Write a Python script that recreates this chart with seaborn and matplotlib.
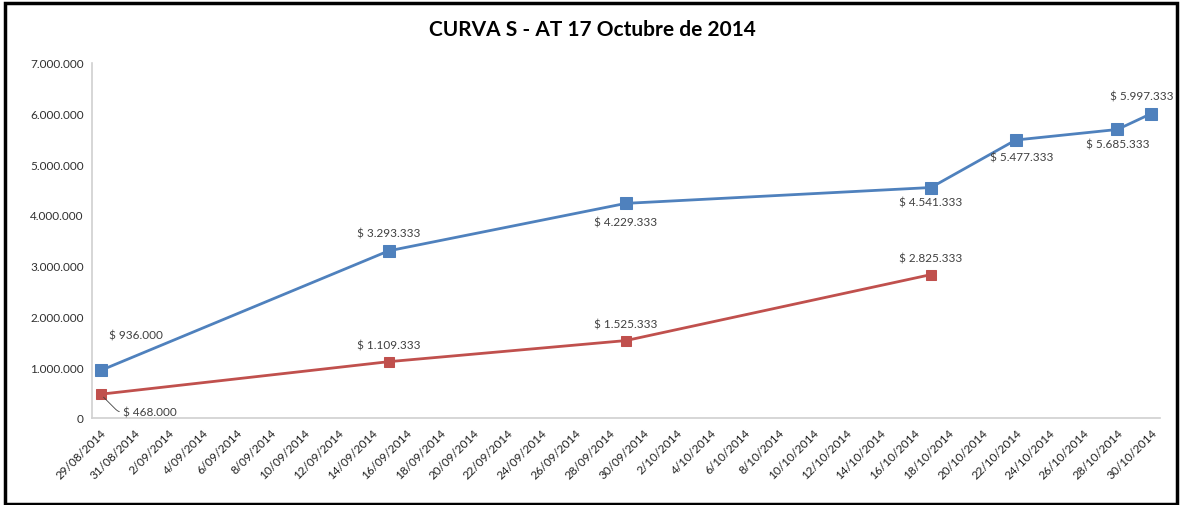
import pandas as pd
import numpy as np
import matplotlib
matplotlib.use('Agg')
import matplotlib.pyplot as plt
import seaborn as sns

###### Data
blue_dates = ['2014-08-29', '2014-09-15', '2014-09-29', '2014-10-17', '2014-10-22', '2014-10-28', '2014-10-30']
blue_values = [936000, 3293333, 4229333, 4541333, 5477333, 5685333, 5997333]
red_dates = ['2014-08-29', '2014-09-15', '2014-09-29', '2014-10-17']
red_values = [468000, 1109333, 1525333, 2825333]

df_blue = pd.DataFrame({'fecha': pd.to_datetime(blue_dates), 'valor': blue_values})
df_red = pd.DataFrame({'fecha': pd.to_datetime(red_dates), 'valor': red_values})

BLUE = '#4F81BD'
RED = '#C0504D'

def fmt_money(v):
    return '$ ' + '{:,}'.format(v).replace(',', '.')

sns.set_style('white')
plt.rcParams['font.family'] = ['Lato', 'DejaVu Sans']

fig = plt.figure(figsize=(11.81, 5.06), dpi=100)
ax = fig.add_axes([0.078, 0.172, 0.904, 0.702])

sns.lineplot(data=df_blue, x='fecha', y='valor', color=BLUE, marker='s', markersize=9,
             markeredgecolor=BLUE, linewidth=2, ax=ax)
sns.lineplot(data=df_red, x='fecha', y='valor', color=RED, marker='s', markersize=7,
             markeredgecolor=RED, linewidth=2, ax=ax)

# data labels (offsets in pixels)
blue_off = [(35, 35), (0, 18), (0, -19), (0, -14), (6, -17), (0, -15), (-10, 18)]
red_off = [(0, 0), (0, 17), (0, 17), (0, 17)]
for (d, v), off in zip(zip(df_blue['fecha'], df_blue['valor']), blue_off):
    ax.annotate(fmt_money(v), (d, v), xytext=off, textcoords='offset pixels',
                ha='center', va='center', fontsize=8.5, color='#404040',
                annotation_clip=False, clip_on=False)
for i, ((d, v), off) in enumerate(zip(zip(df_red['fecha'], df_red['valor']), red_off)):
    if i == 0:
        ax.annotate(fmt_money(v), (d, v), xytext=(22, -18), textcoords='offset pixels',
                    ha='left', va='center', fontsize=8.5, color='#404040',
                    annotation_clip=False, clip_on=False,
                    arrowprops=dict(arrowstyle='-', color='#404040', lw=0.6,
                                    shrinkA=0, shrinkB=3,
                                    connectionstyle='angle,angleA=0,angleB=-45,rad=4'))
    else:
        ax.annotate(fmt_money(v), (d, v), xytext=off, textcoords='offset pixels',
                    ha='center', va='center', fontsize=8.5, color='#404040',
                    annotation_clip=False, clip_on=False)

# axes
start = pd.Timestamp('2014-08-29')
end = pd.Timestamp('2014-10-30')
ax.set_xlim(start - pd.Timedelta(hours=12), end + pd.Timedelta(hours=12))
ax.set_ylim(0, 7000000)
ticks = pd.date_range(start, end, freq='2D')
ax.set_xticks(ticks)
ax.set_xticklabels(['{}/{:02d}/{}'.format(t.day, t.month, t.year) for t in ticks],
                   rotation=45, ha='right', rotation_mode='anchor', fontsize=8.5, color='#202020')
ax.set_yticks(np.arange(0, 7000001, 1000000))
ax.set_yticklabels(['{:,}'.format(int(y)).replace(',', '.') for y in np.arange(0, 7000001, 1000000)],
                   fontsize=8.5, color='#303030')
ax.tick_params(axis='both', length=0, pad=6)
ax.set_xlabel('')
ax.set_ylabel('')
for s in ['top', 'right']:
    ax.spines[s].set_visible(False)
for s in ['left', 'bottom']:
    ax.spines[s].set_color('#D0D0D0')
    ax.spines[s].set_linewidth(1.2)

fig.text(0.502, 0.94, 'CURVA S - AT 17 Octubre de 2014', ha='center', va='center',
         fontsize=15, fontweight='bold', color='black')

# chart border
fig.add_artist(plt.Rectangle((0.004, 0.002), 0.993, 0.99, transform=fig.transFigure,
                             fill=False, edgecolor='black', linewidth=2.5))

fig.savefig('out.png', dpi=100)
